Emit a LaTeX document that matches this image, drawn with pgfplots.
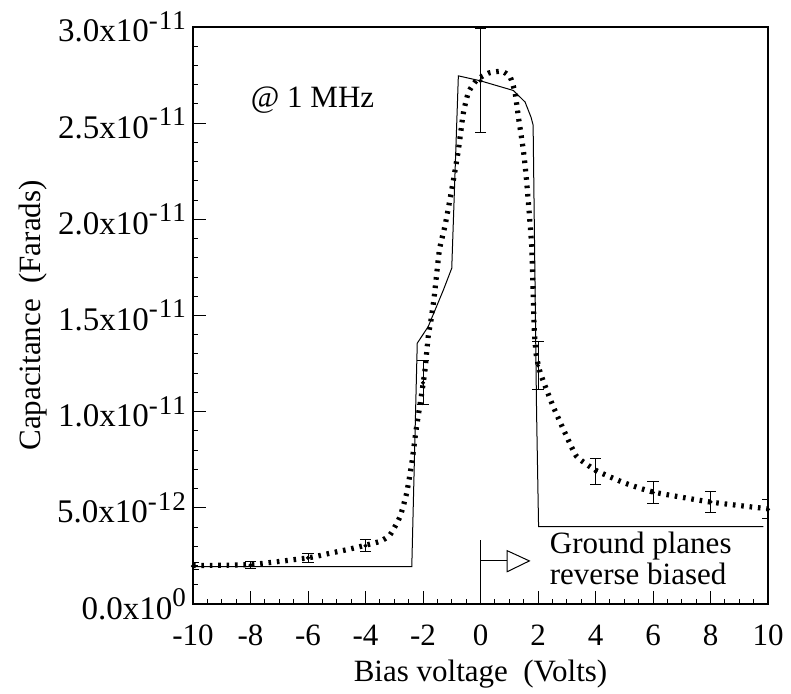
\documentclass[border=0pt]{standalone}
\usepackage{fontspec}
\setmainfont{Liberation Serif}
\usepackage{pgfplots}
\pgfplotsset{compat=1.18}
\newcommand{\sci}[2]{#1x10\raisebox{0.38em}{\fontsize{13.5}{14}\selectfont\addfontfeature{LetterSpace=4}#2}}

\begin{document}
\begin{tikzpicture}[font=\fontsize{15.5}{18}\selectfont]
\begin{axis}[
  scale only axis, width=287.5pt, height=288.5pt,
  xmin=-10, xmax=10, ymin=0, ymax=3e-11,
  scaled y ticks=false,
  xtick={-10,-8,...,10},
  xticklabels={-10,-8,-6,-4,-2,0,2,4,6,8,10},
  ytick={0,5e-12,1e-11,1.5e-11,2e-11,2.5e-11,3e-11},
  yticklabels={\sci{0.0}{0},\sci{5.0}{-12},\sci{1.0}{-11},\sci{1.5}{-11},\sci{2.0}{-11},\sci{2.5}{-11},\sci{3.0}{-11}},
  yticklabel style={font=\fontsize{16.5}{18}\selectfont},
  minor x tick num=3, minor y tick num=4,
  tick pos=left, tick align=inside,
  major tick length=6.5pt, minor tick length=2.5pt,
  every tick/.style={black, line width=0.5pt},
  axis line style={line width=0.7pt},
  xticklabel style={yshift=-7pt},
  xlabel={Bias voltage\ \ (Volts)},
  ylabel={Capacitance\ \ (Farads)},
  ylabel style={yshift=-2pt},
]
% model (solid)
\addplot[black, line width=0.5pt] coordinates {
  (-10,1.94e-12) (-2.39,1.94e-12) (-2.2,13.56e-12) (-1.82,14.42e-12)
  (-1.29,16.33e-12) (-1.0,17.46e-12) (-0.77,27.46e-12) (0,27.2e-12)
  (1.14,26.7e-12) (1.55,26.1e-12) (1.76,25.3e-12) (1.83,24.9e-12)
  (1.95,10e-12) (2.02,4.02e-12) (9.84,4.02e-12)
};
% model (dotted)
\addplot[black, line width=2.6pt, dash pattern=on 1.3pt off 2.9pt, smooth, tension=0.3] coordinates {
  (-10,2.0e-12) (-8,2.05e-12) (-6,2.4e-12) (-5.23,2.64e-12) (-4.54,2.86e-12)
  (-3.53,3.24e-12) (-3.15,3.59e-12) (-2.8,4.54e-12) (-2.57,5.76e-12)
  (-2.39,7.32e-12) (-2.24,9.05e-12) (-2.08,10.6e-12) (-1.93,12.17e-12)
  (-1.82,13.9e-12) (-1.73,14.68e-12) (-1.61,15.98e-12) (-1.43,18.4e-12)
  (-1.23,19.7e-12) (-0.97,21.8e-12) (-0.77,23.6e-12) (-0.60,25.5e-12)
  (-0.42,26.6e-12) (-0.13,27.25e-12) (0.27,27.6e-12) (0.74,27.7e-12)
  (1.03,27.4e-12) (1.2,26.6e-12) (1.32,25.3e-12) (1.49,23.6e-12)
  (1.6,22.05e-12) (1.78,18.6e-12) (1.86,14.6e-12) (1.93,13.04e-12)
  (2.05,12.17e-12) (2.19,11.56e-12) (2.53,10.26e-12) (3.0,8.7e-12)
  (3.35,7.66e-12) (4.02,6.94e-12) (5,6.3e-12) (6.01,5.82e-12)
  (8.0,5.3e-12) (10,4.95e-12)
};
% measurements
\addplot[black, only marks, mark=*, mark size=0.8pt,
  error bars/.cd, y dir=both, y explicit,
  error bar style={line width=0.5pt},
  error mark options={rotate=90, mark size=2.8pt, line width=0.5pt, black}]
  table[x=x, y=y, y error=e] {
x   y         e
-10 1.97e-12  0.2e-12
-8  2.02e-12  0.2e-12
-6  2.4e-12   0.25e-12
-4  3.03e-12  0.3e-12
-2  11.5e-12  1.15e-12
0   27.2e-12  2.7e-12
2   12.4e-12  1.24e-12
4   6.9e-12   0.69e-12
6   5.8e-12   0.59e-12
8   5.31e-12  0.54e-12
10  4.92e-12  0.5e-12
};
\node[anchor=base west, inner sep=0] at (axis cs:-8,25.8e-12) {@ 1 MHz};
\draw[line width=0.5pt] (axis cs:0,0) -- (axis cs:0,3.33e-12);
\draw[line width=0.5pt] (axis cs:0,2.24e-12) -- (axis cs:0.93,2.24e-12);
\draw[line width=0.5pt, fill=white] (axis cs:0.93,2.77e-12) -- (axis cs:1.70,2.24e-12) -- (axis cs:0.93,1.68e-12) -- cycle;
\node[anchor=north west, inner sep=0, align=left, font=\fontsize{15.5}{15.8}\selectfont] at (axis cs:2.4,3.78e-12) {Ground planes\\reverse biased};
\end{axis}
\pgfresetboundingbox
\path ([shift={(-96.5pt,-45pt)}]current axis.south west) rectangle ([shift={(11.5pt,13.5pt)}]current axis.north east);
\end{tikzpicture}
\end{document}
